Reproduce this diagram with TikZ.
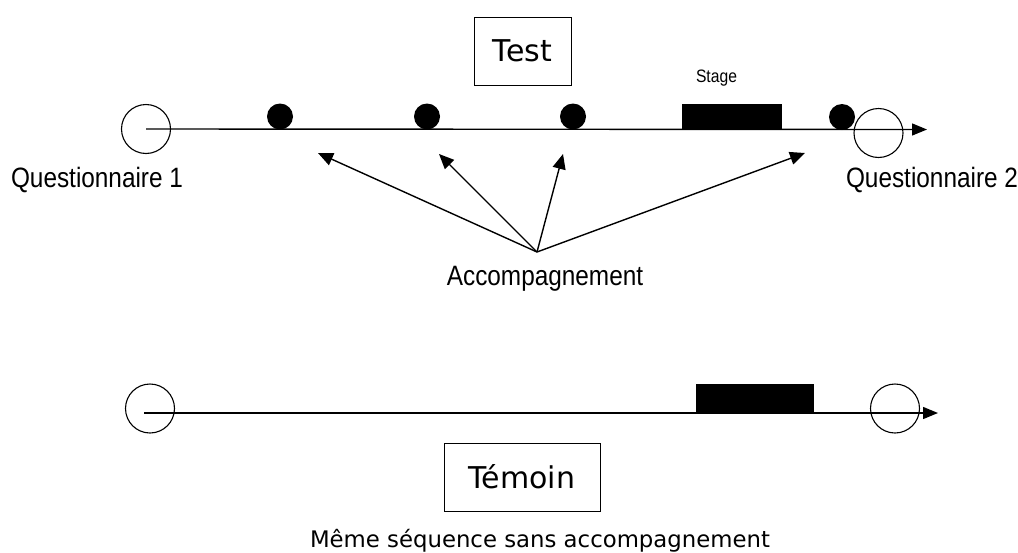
\documentclass[tikz,border=0pt]{standalone}
\usepackage{fontspec}
\setmainfont{Liberation Sans}
\newfontfamily\narrowfont[FakeStretch=0.87]{Liberation Sans}
\newfontfamily\verdfont{DejaVu Sans}
\usetikzlibrary{arrows.meta}
\begin{document}
\begin{tikzpicture}[x=1pt,y=-1pt,
  hollow/.style={circle,draw,line width=1.1pt,minimum size=49pt,inner sep=0pt},
  dotnode/.style={circle,fill=black,minimum size=26pt,inner sep=0pt},
  barbox/.style={fill=black,inner sep=0pt},
  framebox/.style={draw,line width=0.9pt,inner sep=0pt,font=\verdfont\fontsize{30}{32}\selectfont},
  lbl/.style={font=\narrowfont\fontsize{28}{30}\selectfont,inner sep=0pt,anchor=base},
  axis/.style={line width=1.4pt,-{Triangle[length=15pt,width=12pt]}},
  pointer/.style={line width=1.4pt,-{Triangle[length=15pt,width=13pt]}}]
\useasboundingbox (0,0) rectangle (1018,552);
% ---- Test sequence ----
\node[framebox,minimum width=97pt,minimum height=68pt] (test) at (522.5,51) {Test};
\node[hollow] (q1) at (146,129) {};
\node[hollow] (q2) at (878.5,133) {};
\coordinate (end1) at (927,129.5);
\draw[axis] (q1.center) -- (end1);
\node[dotnode] (d1) at (280,116.5) {};
\node[dotnode] (d2) at (427,116.5) {};
\node[dotnode] (d3) at (573,116.5) {};
\node[dotnode] (d4) at (842,117) {};
\node[barbox,minimum width=100pt,minimum height=26pt] (stage) at (732,117) {};
\node[font=\narrowfont\fontsize{18}{20}\selectfont,inner sep=0pt,anchor=base] (stagelbl) at (716.5,82) {Stage};
\node[lbl] (ql1) at (97,187) {Questionnaire 1};
\node[lbl] (ql2) at (932,187) {Questionnaire 2};
\node[lbl] (acc) at (545,285) {Accompagnement};
\coordinate (src) at (537,252);
\coordinate (t1) at (318,153);
\coordinate (t2) at (439,154);
\coordinate (t3) at (563,154);
\coordinate (t4) at (805,153);
\foreach \t in {t1,t2,t3,t4} \draw[pointer] (src) -- (\t);
% ---- Control sequence ----
\node[hollow] (c1) at (150,408.5) {};
\node[hollow] (c2) at (895,408.5) {};
\coordinate (end2) at (938,413);
\draw[axis] (c1.center) ++(-6,4.5) coordinate (s2) (s2) -- (end2);
\node[barbox,minimum width=118pt,minimum height=30pt] (stage2) at (755,399) {};
\node[framebox,minimum width=156pt,minimum height=68pt] (temoin) at (522,477) {Témoin};
\node[font=\verdfont\fontsize{22.8}{25}\selectfont,inner sep=0pt,anchor=base] (meme) at (540,547) {Même séquence sans accompagnement};
\end{tikzpicture}
\end{document}
